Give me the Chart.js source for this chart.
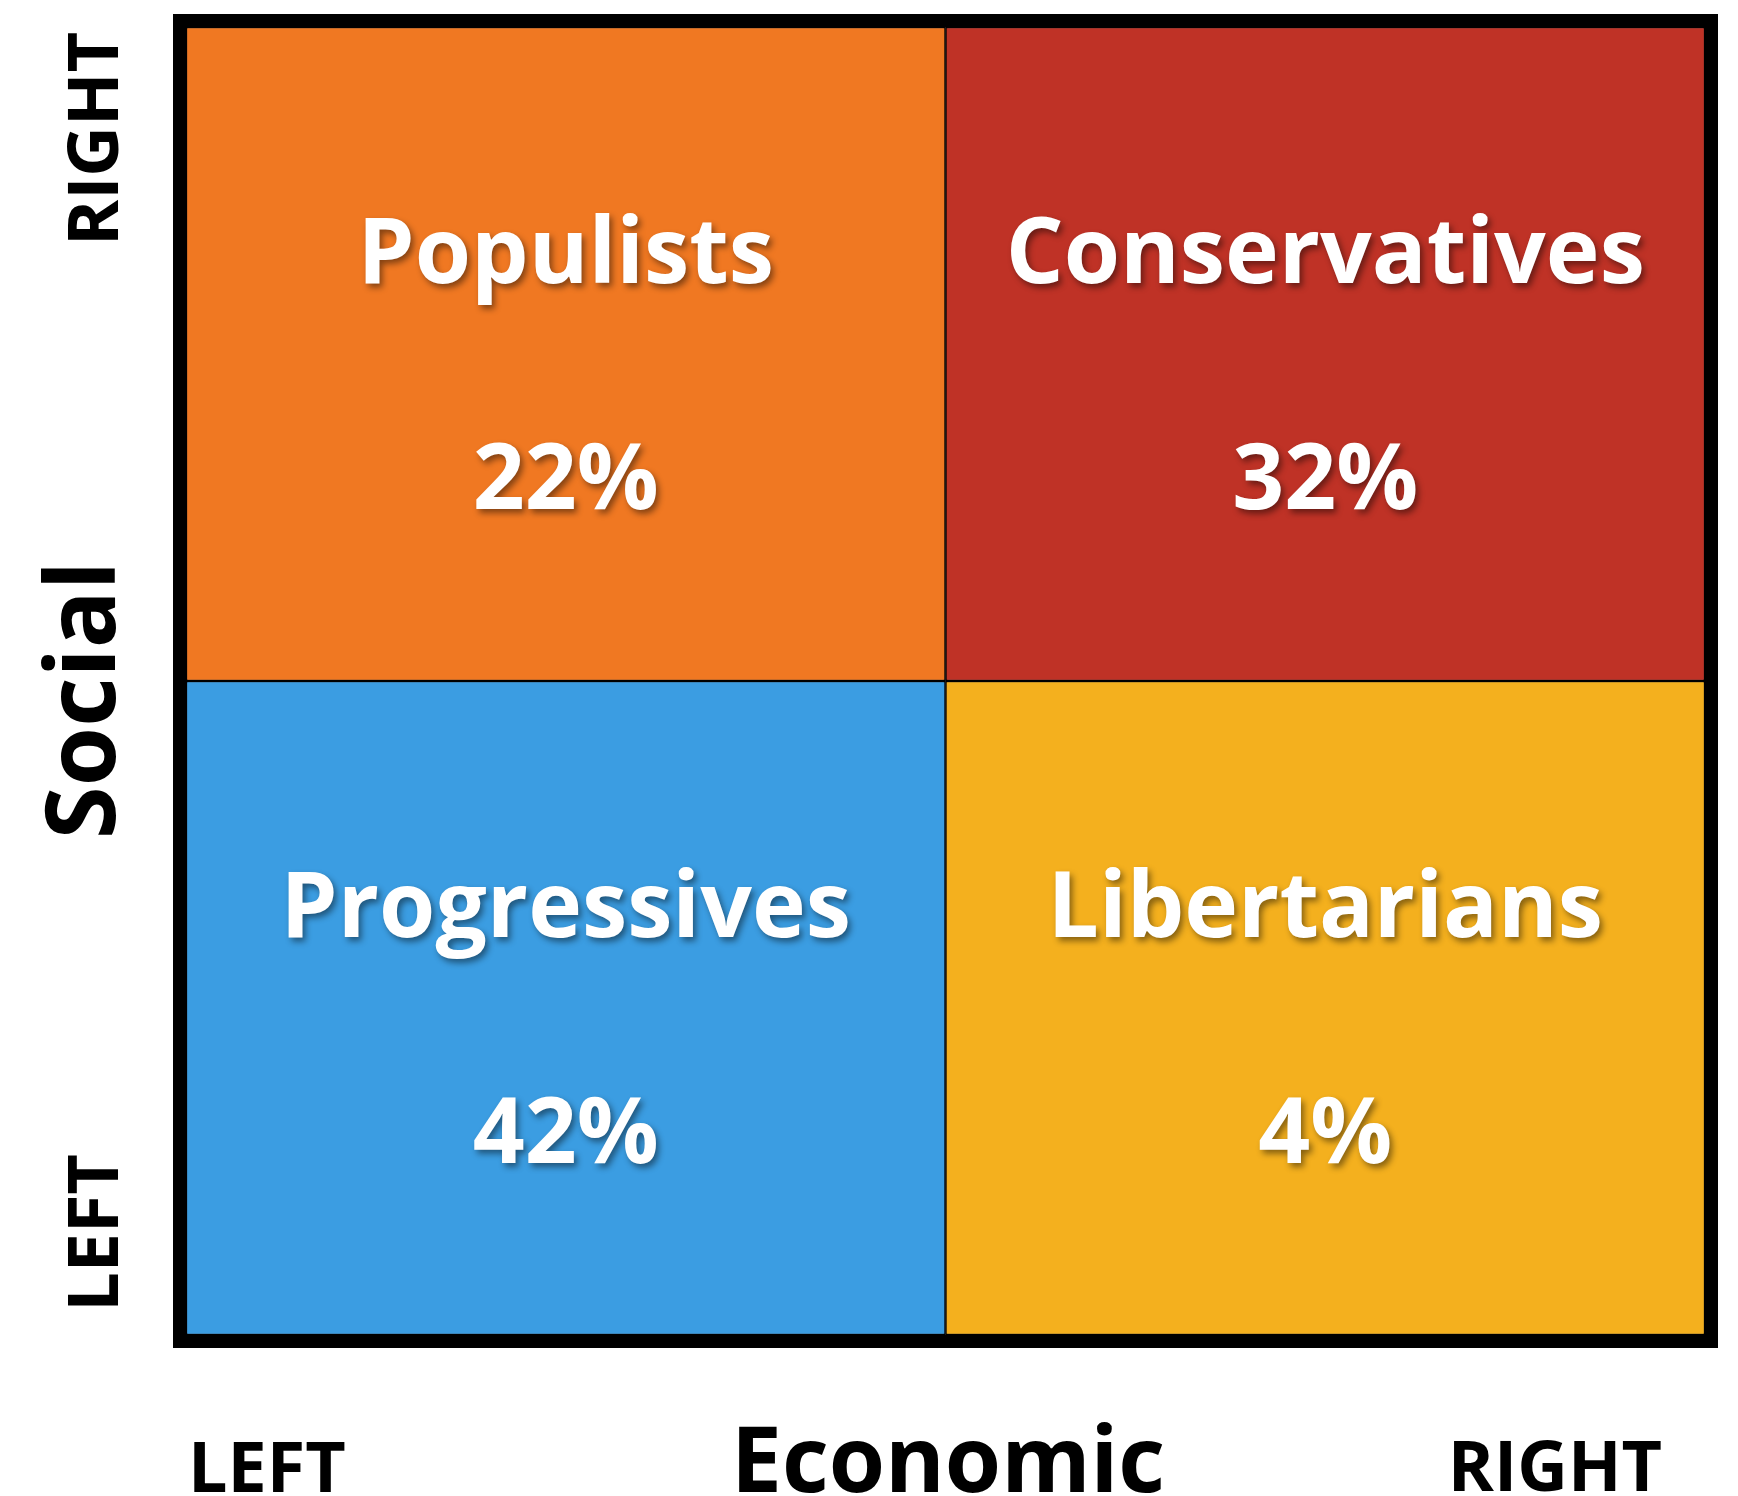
<!DOCTYPE html>
<html>
<head>
<meta charset="utf-8">
<title>Political quadrant</title>
<script src="https://cdn.jsdelivr.net/npm/chart.js@4"></script>
<style>
  html, body { margin: 0; padding: 0; background: #fff; }
  canvas { display: block; }
</style>
</head>
<body>
<canvas id="quadrant-chart" width="1738" height="1496"></canvas>
<script>
// economic axis categories (x) and social axis levels (y)
const economicLabels = ['LEFT', 'RIGHT'];
const socialLabels = ['LEFT', 'RIGHT'];
const economicTitle = 'Economic';
const socialTitle = 'Social';

// groups per social level, ordered by economic LEFT -> RIGHT
const socialLeftGroups = ['Progressives', 'Libertarians'];
const socialLeftShares = [42, 4];
const socialRightGroups = ['Populists', 'Conservatives'];
const socialRightShares = [22, 32];

// each quadrant takes one equal cell
const socialLeftCells = [1, 1];
const socialRightCells = [1, 1];

const socialLeftColors = ['#3b9de2', '#f4b01e'];
const socialRightColors = ['#f07822', '#bf3226'];

const FONT = '"Open Sans", "DejaVu Sans", sans-serif';

// white labels with a drop shadow in every quadrant
const quadrantText = {
  id: 'quadrantText',
  afterDatasetsDraw(chart) {
    const ctx = chart.ctx;
    const sets = [
      { names: socialLeftGroups, shares: socialLeftShares },
      { names: socialRightGroups, shares: socialRightShares }
    ];
    ctx.save();
    ctx.fillStyle = '#fff';
    ctx.textAlign = 'center';
    ctx.textBaseline = 'alphabetic';
    ctx.font = '700 91px ' + FONT;
    ctx.shadowColor = 'rgba(0,0,0,0.45)';
    ctx.shadowBlur = 6;
    ctx.shadowOffsetX = 3;
    ctx.shadowOffsetY = 4;
    sets.forEach((s, di) => {
      chart.getDatasetMeta(di).data.forEach((bar, i) => {
        const top = Math.min(bar.y, bar.base);
        const h = Math.abs(bar.base - bar.y);
        ctx.fillText(s.names[i], bar.x, top + h * 0.392);
        ctx.fillText(s.shares[i] + '%', bar.x, top + h * 0.737);
      });
    });
    ctx.restore();
  }
};

// thick black frame plus the axis words outside it
const frameAndAxes = {
  id: 'frameAndAxes',
  afterDraw(chart) {
    const ctx = chart.ctx;
    const a = chart.chartArea;
    ctx.save();
    ctx.strokeStyle = '#000';
    ctx.lineWidth = 13;
    ctx.strokeRect(a.left - 6.5, a.top - 6.5, a.right - a.left + 13, a.bottom - a.top + 13);

    ctx.fillStyle = '#000';
    ctx.textBaseline = 'alphabetic';

    // x axis
    ctx.font = '700 70px ' + FONT;
    ctx.textAlign = 'left';
    ctx.fillText(economicLabels[0], 188, 1492);
    ctx.textAlign = 'right';
    ctx.fillText(economicLabels[1], 1662, 1491);
    ctx.textAlign = 'center';
    ctx.font = '700 91px ' + FONT;
    ctx.fillText(economicTitle, 948, 1492);

    // y axis (rotated)
    const vtext = (txt, x, y, size) => {
      ctx.save();
      ctx.translate(x, y);
      ctx.rotate(-Math.PI / 2);
      ctx.font = '700 ' + size + 'px ' + FONT;
      ctx.textAlign = 'center';
      ctx.fillText(txt, 0, 0);
      ctx.restore();
    };
    vtext(socialLabels[1], 118, 139, 70);
    vtext(socialLabels[0], 118, 1233, 70);
    vtext(socialTitle, 115, 700, 96);
    ctx.restore();
  }
};

const ctxQuadrant = document.getElementById('quadrant-chart').getContext('2d');

const quadrantChart = new Chart(ctxQuadrant, {
  type: 'bar',
  data: {
    labels: economicLabels,
    datasets: [{
      label: socialLabels[0],
      data: socialLeftCells,
      backgroundColor: socialLeftColors,
      borderColor: '#000',
      borderWidth: 1.5,
      borderSkipped: false
    }, {
      label: socialLabels[1],
      data: socialRightCells,
      backgroundColor: socialRightColors,
      borderColor: '#000',
      borderWidth: 1.5,
      borderSkipped: false
    }]
  },
  options: {
    responsive: false,
    devicePixelRatio: 1,
    animation: false,
    barPercentage: 1,
    categoryPercentage: 1,
    layout: {
      padding: { left: 186, top: 27, right: 33, bottom: 161 }
    },
    plugins: {
      legend: { display: false },
      tooltip: { enabled: false },
      title: { display: false }
    },
    scales: {
      x: { stacked: true, display: false },
      y: { stacked: true, display: false, min: 0, max: 2 }
    }
  },
  plugins: [quadrantText, frameAndAxes]
});
</script>
</body>
</html>
